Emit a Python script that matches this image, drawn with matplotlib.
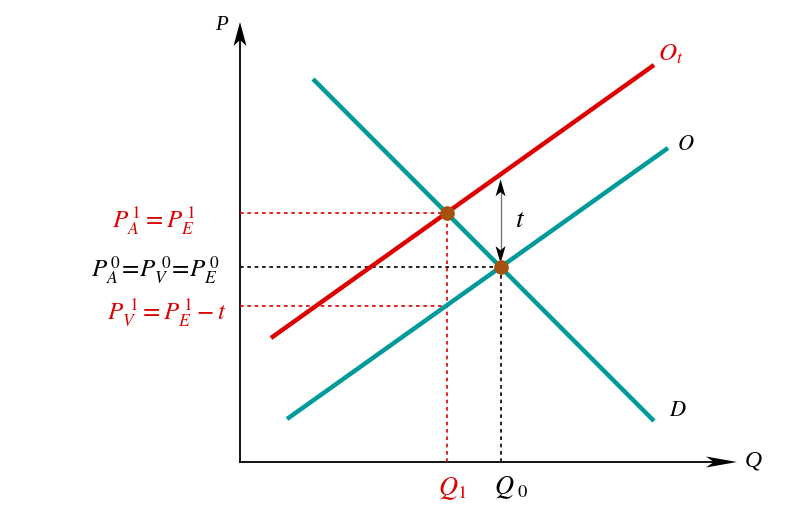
import numpy as np
import matplotlib.pyplot as plt
from matplotlib.patches import Polygon

# line end points in (Q, P) units, origin at the axes corner
demand_q = [73, 414]
demand_p = [383, 41]
supply_q = [47, 428]
supply_p = [43, 314]
supply_tax_q = [31, 414]
supply_tax_p = [124, 397]
pv1 = 156  # price received by sellers after the tax

teal = '#009a9a'
red = '#dd0000'
brown = '#a5520f'

plt.rcParams['mathtext.fontset'] = 'stix'
plt.rcParams['font.family'] = ['Liberation Serif', 'DejaVu Serif']


def line_coef(q, p):
    m = (p[1] - p[0]) / (q[1] - q[0])
    return m, p[0] - m * q[0]


def intersect(a, b):
    m1, c1 = a
    m2, c2 = b
    q = (c2 - c1) / (m1 - m2)
    return q, m1 * q + c1


def stealth(ax, tip, direction, length, width, color='black'):
    # arrow head with a notched back, drawn in data units (1 unit ~ 1 px)
    d = np.array(direction, float)
    d /= np.linalg.norm(d)
    n = np.array([-d[1], d[0]])
    tip = np.array(tip, float)
    pts = [tip,
           tip - length * d + width / 2 * n,
           tip - 0.75 * length * d,
           tip - length * d - width / 2 * n]
    ax.add_patch(Polygon(pts, closed=True, color=color, lw=0, zorder=6))


d_line = line_coef(demand_q, demand_p)
s_line = line_coef(supply_q, supply_p)
t_line = line_coef(supply_tax_q, supply_tax_p)
q0, p0 = intersect(d_line, s_line)
q1, p1 = intersect(d_line, t_line)

fig = plt.figure(figsize=(7.9, 5.15), dpi=100)
ax = fig.add_axes([0, 0, 1, 1])
ax.set_xlim(-240, 550)
ax.set_ylim(-53, 462)
ax.axis('off')

# axes with arrows
ax.plot([0, 0], [0, 425], color='black', lw=1.3)
ax.plot([0, 480], [0, 0], color='black', lw=1.3)
stealth(ax, (0, 440), (0, 1), 24, 13)
stealth(ax, (497, 0), (1, 0), 31, 11)
ax.text(-19, 437, 'P', fontsize=15, style='italic', ha='center', va='center')
ax.text(513, 1, 'Q', fontsize=17, style='italic', ha='center', va='center')

# dotted guides
dash = (0, (2.2, 2.2))
ax.plot([0, q1], [p1, p1], color=red, lw=1.2, ls=dash)
ax.plot([q1, q1], [0, p1], color=red, lw=1.2, ls=dash)
ax.plot([0, q1], [pv1, pv1], color=red, lw=1.2, ls=dash)
ax.plot([0, q0], [p0, p0], color='black', lw=1.2, ls=dash)
ax.plot([q0, q0], [0, p0], color='black', lw=1.2, ls=dash)

# curves
ax.plot(demand_q, demand_p, color=teal, lw=3.2, solid_capstyle='butt')
ax.plot(supply_q, supply_p, color=teal, lw=3.2, solid_capstyle='butt')
ax.plot(supply_tax_q, supply_tax_p, color=red, lw=3.2, solid_capstyle='butt')

ax.plot([q1, q0], [p1, p0], 'o', color=brown, ms=9.5, zorder=7)

# tax arrow
p_top = t_line[0] * q0 + t_line[1] - 5
p_bot = p0 + 4
ax.plot([q0, q0], [p_bot + 8, p_top - 8], color='#777777', lw=1.0, zorder=5)
stealth(ax, (q0, p_top), (0, 1), 17, 10)
stealth(ax, (q0, p_bot), (0, -1), 17, 10)
ax.text(q0 + 20, (p0 + p_top) / 2 + 3, '$t$', fontsize=20, ha='center', va='center')

# curve labels
ax.text(431, 408, '$O_t$', fontsize=18, color=red, ha='center', va='center')
ax.text(446, 316, '$O$', fontsize=16, ha='center', va='center')
ax.text(438, 51, '$D$', fontsize=16, ha='center', va='center')

# price labels
ax.text(-45, p1 - 7, '$P_A^{\\,1} = P_E^{\\,1}$', fontsize=18, color=red,
        ha='right', va='center')
ax.text(-20, p0 - 3, '$P_A^{\\,0}\\!=\\!P_V^{\\ 0}\\!=\\!P_E^{\\,0}$', fontsize=18,
        ha='right', va='center')
ax.text(-13, pv1 - 6, '$P_V^{\\ 1} = P_E^{\\,1} - t$', fontsize=18, color=red,
        ha='right', va='center')

# quantity labels
ax.text(q1 + 6, -27, '$Q_1$', fontsize=19, color=red, ha='center', va='center')
ax.text(q0 + 11, -26, '$Q_{\\ 0}$', fontsize=19, ha='center', va='center')

fig.savefig('out.png', dpi=100)
